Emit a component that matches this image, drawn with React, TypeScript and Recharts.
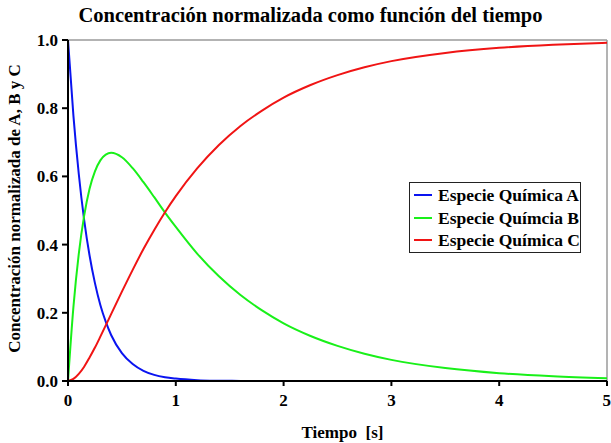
import { LineChart, Line, XAxis, YAxis, ReferenceLine, Label } from "recharts";

// tiempo [s]
const tiempo = [0, 0.05, 0.1, 0.15, 0.2, 0.25, 0.3, 0.35, 0.4, 0.5, 0.6, 0.7, 0.8, 0.9, 1.0, 1.2, 1.4, 1.6, 1.8, 2.0, 2.25, 2.5, 2.75, 3.0, 3.5, 4.0, 4.5, 5.0];
const especieA = [1, 0.779, 0.607, 0.472, 0.368, 0.287, 0.223, 0.174, 0.135, 0.082, 0.05, 0.03, 0.018, 0.011, 0.007, 0.0025, 0.0009, 0.0003, 0.0001, 0, 0, 0, 0, 0, 0, 0, 0, 0];
const especieB = [0, 0.216, 0.373, 0.485, 0.564, 0.615, 0.647, 0.664, 0.669, 0.656, 0.624, 0.583, 0.539, 0.494, 0.452, 0.373, 0.307, 0.252, 0.207, 0.169, 0.132, 0.103, 0.08, 0.062, 0.038, 0.023, 0.014, 0.008];
const especieC = [0, 0.006, 0.021, 0.042, 0.069, 0.098, 0.13, 0.163, 0.196, 0.262, 0.326, 0.387, 0.443, 0.495, 0.542, 0.624, 0.692, 0.748, 0.793, 0.831, 0.868, 0.897, 0.92, 0.938, 0.962, 0.977, 0.986, 0.992];

const xTicks = [0, 1, 2, 3, 4, 5];
const yTicks = [0, 0.2, 0.4, 0.6, 0.8, 1.0];

const series = [
  { key: "a", name: "Especie Química A", color: "#0a14f0" },
  { key: "b", name: "Especie Químcia B", color: "#19f019" },
  { key: "c", name: "Especie Química C", color: "#f01414" },
];

const data = tiempo.map((t, i) => ({ t, a: especieA[i], b: especieB[i], c: especieC[i] }));

const font = "Liberation Serif";
const tickStyle = { fontFamily: font, fontWeight: 700, fontSize: 17, fill: "#000" };

function LegendBox() {
  return (
    <div
      style={{
        position: "absolute",
        left: 409,
        top: 182,
        width: 172,
        height: 71,
        boxSizing: "border-box",
        border: "1px solid #222",
        background: "#fff",
        padding: "1px 0 0 4px",
        fontFamily: font,
        fontWeight: 700,
        fontSize: 17.5,
        lineHeight: "22.5px",
        color: "#000",
      }}
    >
      {series.map((s) => (
        <div key={s.key} style={{ display: "flex", alignItems: "center", whiteSpace: "nowrap" }}>
          <span style={{ display: "inline-block", width: 18, height: 2, background: s.color, marginRight: 6 }} />
          {s.name}
        </div>
      ))}
    </div>
  );
}

export default function App() {
  return (
    <div style={{ position: "absolute", left: 0, top: 0, width: 611, height: 443, background: "#fff", fontFamily: font }}>
      <div
        style={{
          position: "absolute",
          left: 0,
          width: 611,
          top: 4,
          textAlign: "center",
          fontFamily: font,
          fontWeight: 700,
          fontSize: 20.5,
          paddingLeft: 10,
          boxSizing: "border-box",
        }}
      >
        Concentración normalizada como función del tiempo
      </div>
      <LineChart
        width={611}
        height={443}
        data={data}
        margin={{ top: 40, right: 4, bottom: 0, left: 0 }}
        style={{ fontFamily: font }}
      >
        <XAxis
          dataKey="t"
          type="number"
          domain={[0, 5]}
          ticks={xTicks}
          height={62}
          tick={tickStyle}
          tickSize={5}
          tickMargin={8}
          axisLine={{ stroke: "#000", strokeWidth: 2 }}
          tickLine={{ stroke: "#000", strokeWidth: 2 }}
        >
          <Label
            value={"Tiempo\u00a0 [s]"}
            position="insideBottom"
            offset={5}
            dx={5}
            style={{ fontFamily: font, fontWeight: 700, fontSize: 17, fill: "#000" }}
          />
        </XAxis>
        <YAxis
          type="number"
          domain={[0, 1]}
          ticks={yTicks}
          width={68}
          tick={tickStyle}
          tickFormatter={(v: number) => v.toFixed(1)}
          tickSize={6}
          tickMargin={4}
          axisLine={{ stroke: "#000", strokeWidth: 2 }}
          tickLine={{ stroke: "#000", strokeWidth: 2 }}
        >
          <Label
            value="Concentración normalizada de A, B y C"
            angle={-90}
            position="insideLeft"
            offset={14}
            dy={-2}
            style={{ textAnchor: "middle", fontFamily: font, fontWeight: 700, fontSize: 17, fill: "#000" }}
          />
        </YAxis>
        <ReferenceLine y={1} stroke="#9a9a9a" strokeWidth={1.5} />
        <ReferenceLine x={5} stroke="#9a9a9a" strokeWidth={1.5} />
        {series.map((s) => (
          <Line
            key={s.key}
            dataKey={s.key}
            name={s.name}
            type="monotone"
            stroke={s.color}
            strokeWidth={2}
            dot={false}
            isAnimationActive={false}
          />
        ))}
      </LineChart>
      <LegendBox />
    </div>
  );
}
